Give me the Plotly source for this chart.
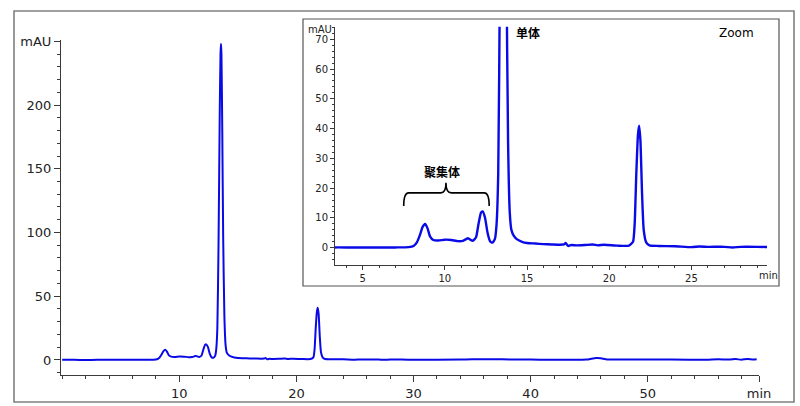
import plotly.graph_objects as go

# Chromatogram (time in min, signal in mAU)
time_min = [0.0, 1.0, 2.0, 3.0, 4.0, 5.0, 6.0, 7.0, 7.8, 8.1, 8.3, 8.5, 8.65, 8.8, 8.95, 9.1, 9.3,
            9.6, 10.0, 10.4, 10.8, 11.1, 11.3, 11.4, 11.5, 11.7, 11.9, 12.05, 12.2, 12.3, 12.45,
            12.6, 12.75, 12.9, 13.05, 13.15, 13.25, 13.35, 13.45, 13.52, 13.56, 13.6, 13.67,
            13.75, 13.85, 13.95, 14.05, 14.2, 14.4, 14.7, 15.0, 15.5, 16.0, 16.5, 17.0, 17.25,
            17.35, 17.5, 17.7, 18.0, 18.5, 19.0, 19.3, 19.7, 20.5, 21.2, 21.45, 21.55, 21.65,
            21.75, 21.82, 21.9, 22.0, 22.1, 22.25, 22.45, 23.0, 24.0, 25.0, 25.5, 26.0, 27.0,
            27.5, 28.0, 29.0, 30.0, 34.0, 35.0, 40.0, 44.8, 45.2, 45.6, 46.0, 46.4, 46.8, 50.0,
            52.0, 55.0, 56.0, 57.0, 57.5, 58.0, 58.5, 59.0, 59.3]
signal_mau = [0.1, 0.1, 0.0, 0.1, 0.1, 0.1, 0.1, 0.1, 0.2, 0.6, 1.8, 4.5, 7.0, 8.0, 6.5, 3.8, 2.6,
              2.4, 2.7, 2.6, 2.2, 2.3, 2.9, 3.2, 2.9, 2.3, 3.5, 8.0, 11.8, 12.2, 10.0,
              5.0, 2.2, 1.7, 3.0, 8.0, 25.0, 90.0, 190.0, 240.0, 248.0, 240.0, 180.0,
              95.0, 35.0, 12.0, 6.0, 4.0, 2.8, 2.0, 1.6, 1.4, 1.2, 1.1, 1.0, 1.1,
              1.6, 0.6, 0.9, 0.8, 0.9, 1.1, 0.8, 1.0, 0.7, 0.7, 2.0, 8.0, 25.0,
              38.0, 41.0, 36.0, 18.0, 6.0, 1.8, 0.8, 0.6, 0.5, 0.2, 0.4, 0.3, 0.3,
              0.1, 0.3, 0.3, 0.2, 0.3, 0.6, 0.3, 0.3, 1.0, 1.5, 1.3, 0.5, 0.3, 0.3,
              0.3, 0.2, 0.5, 0.3, 0.7, 0.2, 0.8, 0.3, 0.6]

main_xticks = [10, 20, 30, 40, 50, 59.5]
main_xtext = ["10", "20", "30", "40", "50", "min"]
main_yticks = [0, 50, 100, 150, 200, 250]
main_ytext = ["0", "50", "100", "150", "200", "mAU"]
inset_xticks = [5, 10, 15, 20, 25]
inset_yticks = [0, 10, 20, 30, 40, 50, 60, 70]

W, H = 800, 406
def fx(px):
    return px / W
def fy(py):
    return 1 - py / H

BLUE = "#0a0ae6"
AX = "#3a3a3a"
FONT = "DejaVu Sans, Verdana, sans-serif"
CJK = "Noto Sans CJK SC"

fig = go.Figure()
fig.add_trace(go.Scatter(x=time_min, y=signal_mau, mode="lines", xaxis="x", yaxis="y",
                         line=dict(color=BLUE, width=2, shape="spline", smoothing=0.5),
                         showlegend=False, hoverinfo="skip"))
fig.add_trace(go.Scatter(x=time_min, y=signal_mau, mode="lines", xaxis="x2", yaxis="y2",
                         line=dict(color=BLUE, width=2.4, shape="spline", smoothing=0.5),
                         showlegend=False, hoverinfo="skip"))

fig.update_layout(
    template="none",
    width=W, height=H, margin=dict(l=0, r=0, t=0, b=0, pad=0), autosize=False,
    paper_bgcolor="white", plot_bgcolor="rgba(0,0,0,0)",
    font=dict(family=FONT, color="#222"),
    xaxis=dict(domain=[fx(61), fx(759)], range=[-0.1, 59.5], anchor="y", automargin=False,
               showline=True, linecolor=AX, linewidth=1.2, showgrid=False, zeroline=False,
               tickmode="array", tickvals=main_xticks, ticktext=main_xtext,
               ticks="outside", ticklen=6, tickcolor=AX, tickfont=dict(size=13),
               minor=dict(dtick=2, tick0=0, ticks="outside", ticklen=3, tickcolor=AX,
                          showgrid=False)),
    yaxis=dict(domain=[fy(375), fy(40)], range=[-11.8, 251], anchor="x", automargin=False,
               showline=True, linecolor=AX, linewidth=1.2, showgrid=False, zeroline=False,
               tickmode="array", tickvals=main_yticks, ticktext=main_ytext,
               ticks="outside", ticklen=6, tickcolor=AX, tickfont=dict(size=13),
               minor=dict(dtick=10, tick0=0, ticks="outside", ticklen=3, tickcolor=AX,
                          showgrid=False)),
    xaxis2=dict(domain=[fx(335), fx(767)], range=[3.32, 29.6], anchor="y2", automargin=False,
                showline=True, linecolor=AX, linewidth=1, showgrid=False, zeroline=False,
                tickmode="array", tickvals=inset_xticks,
                ticks="outside", ticklen=4, tickcolor=AX, tickfont=dict(size=10),
                minor=dict(dtick=1, tick0=0, ticks="outside", ticklen=2, tickcolor=AX,
                           showgrid=False)),
    yaxis2=dict(domain=[fy(265), fy(26.7)], range=[-5.8, 74.2], anchor="x2", automargin=False,
                showline=True, linecolor=AX, linewidth=1, showgrid=False, zeroline=False,
                tickmode="array", tickvals=inset_yticks,
                ticks="outside", ticklen=4, tickcolor=AX, tickfont=dict(size=10),
                minor=dict(dtick=2, tick0=0, ticks="outside", ticklen=2, tickcolor=AX,
                           showgrid=False)),
    shapes=[
        dict(type="rect", xref="paper", yref="paper", x0=fx(14), x1=fx(794), y0=fy(402), y1=fy(11),
             line=dict(color="#808080", width=1.6), layer="below"),
        dict(type="rect", xref="paper", yref="paper", x0=fx(303), x1=fx(779), y0=fy(286), y1=fy(19),
             line=dict(color="#555555", width=1.2), fillcolor="white", layer="below"),
        dict(type="path", xref="x2", yref="y2",
             path="M 7.5,14 Q 7.5,18.4 7.8,18.4 L 9.75,18.4 Q 10.07,18.4 10.07,21.8 "
                  "Q 10.07,18.4 10.4,18.4 L 12.4,18.4 Q 12.7,18.4 12.7,14",
             line=dict(color="black", width=1.6)),
    ],
    annotations=[
        dict(text="mAU", xref="paper", yref="paper", x=fx(334), y=fy(29.5), xanchor="right",
             yanchor="middle", showarrow=False, font=dict(size=10)),
        dict(text="min", xref="paper", yref="paper", x=fx(768), y=fy(275), xanchor="center",
             yanchor="middle", showarrow=False, font=dict(size=10)),
        dict(text="<b>单体</b>", xref="paper", yref="paper", x=fx(528), y=fy(33), xanchor="center",
             yanchor="middle", showarrow=False, font=dict(size=12, family=CJK, color="black")),
        dict(text="Zoom", xref="paper", yref="paper", x=fx(736), y=fy(33), xanchor="center",
             yanchor="middle", showarrow=False, font=dict(size=12, color="black")),
        dict(text="<b>聚集体</b>", xref="paper", yref="paper", x=fx(442), y=fy(172), xanchor="center",
             yanchor="middle", showarrow=False, font=dict(size=12, family=CJK, color="black")),
    ],
)

fig.write_html("out.html", config={"displayModeBar": False},
               post_script="document.body.style.margin='0px';document.body.style.overflow='hidden';")
